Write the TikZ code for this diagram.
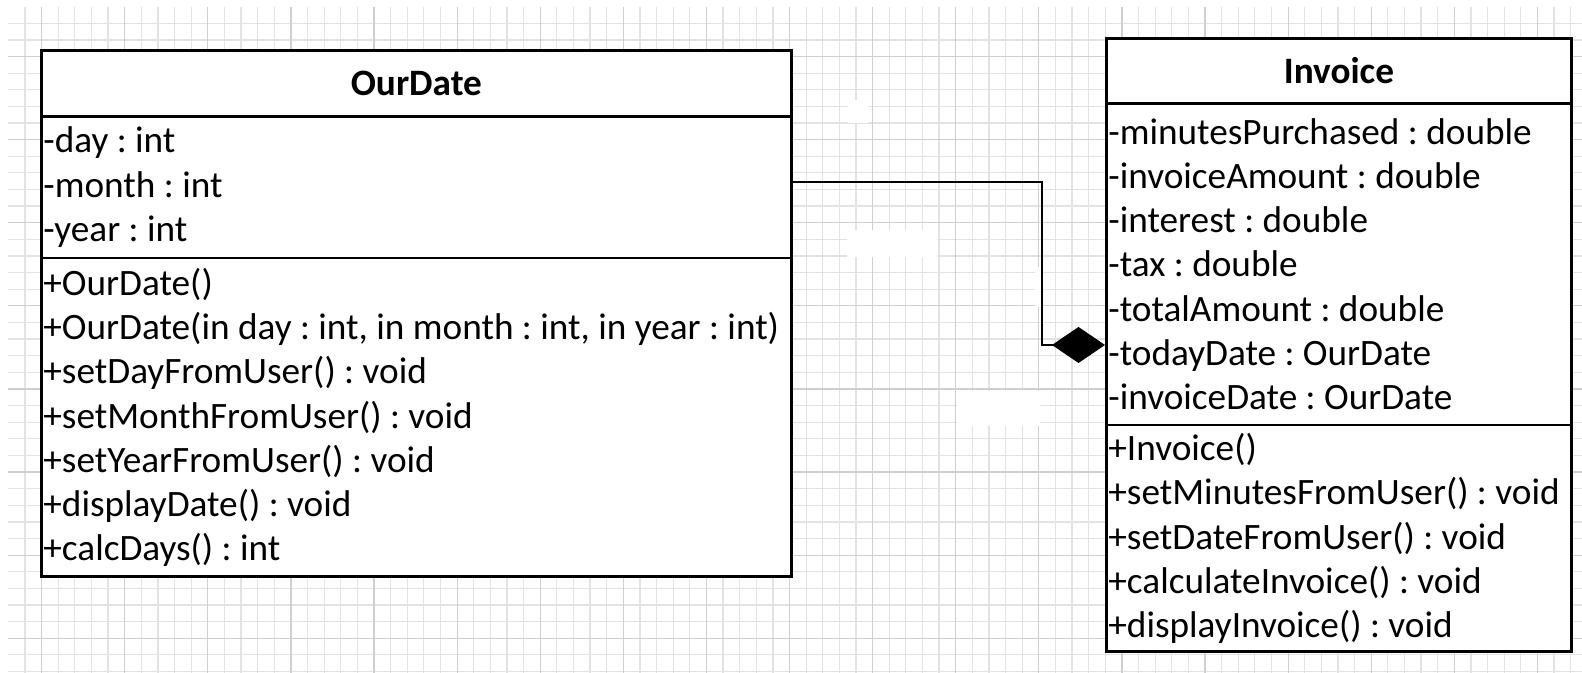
\documentclass[tikz,border=0pt]{standalone}
\usepackage{fontspec}
\setmainfont{Carlito}
\frenchspacing
\usepackage{tikz}
\usetikzlibrary{positioning, shapes.multipart, arrows.meta}
\tikzset{
  umlclass/.style={rectangle split, rectangle split parts=3, draw, line width=0.8pt,
                   fill=white, inner xsep=0.2mm, inner ysep=0pt, anchor=north west,
                   font=\fontsize{10.6}{12.6}\selectfont},
  comp/.style={-{Diamond[length=5.3mm, width=3.6mm]}, line width=0.45pt},
  gridminor/.style={black!11, line width=0.35pt},
  gridmajor/.style={black!19, line width=0.35pt},
  erase/.style={fill=white, draw=none}
}
% one compartment of a class box: height, width, lines
\newcommand{\umlpart}[3]{\parbox[c][#1][c]{#2}{\raggedright #3}}
\newcommand{\umltitle}[3]{\parbox[c][#1][c]{#2}{\centering\textbf{#3}}}

\begin{document}
\begin{tikzpicture}[x=0.1mm, y=-0.1mm]
  \useasboundingbox[fill=white] (0,0) rectangle (1582,673);
  % squared paper
  \foreach \k in {0,...,94}
    \draw[gridminor] ({25+16.62*\k},6.7) -- ++(0,667);
  \foreach \k in {0,...,39}
    \draw[gridminor] (8.4,{23.3+16.62*\k}) -- ++(1574,0);
  \foreach \k in {1,6,...,91}
    \draw[gridmajor] ({25+16.62*\k},6.7) -- ++(0,667);
  \foreach \k in {2,7,...,37}
    \draw[gridmajor] (8.4,{23.3+16.62*\k}) -- ++(1574,0);
  % blanked spots
  \fill[erase] (848,100) rectangle (868,123);
  \fill[erase] (847,230) rectangle (937,257);
  \fill[erase] (1035,267) rectangle (1041,307);
  \fill[erase] (957,391) rectangle (1040,426);

  % classes
  \node[umlclass] (ourdate) at (40,49) {\umltitle{6.3mm}{74.6mm}{OurDate}
    \nodepart{two}\umlpart{13.9mm}{74.6mm}{-day : int\\-month : int\\-year : int}
    \nodepart{three}\umlpart{31.6mm}{74.6mm}{+OurDate()\\+OurDate(in day : int, in month : int, in year : int)\\+setDayFromUser() : void\\+setMonthFromUser() : void\\+setYearFromUser() : void\\+displayDate() : void\\+calcDays() : int}};
  \node[umlclass] (invoice) at (1105,37) {\umltitle{6.2mm}{46.1mm}{Invoice}
    \nodepart{two}\umlpart{31.9mm}{46.1mm}{-minutesPurchased : double\\-invoiceAmount : double\\-interest : double\\-tax : double\\-totalAmount : double\\-todayDate : OurDate\\-invoiceDate : OurDate}
    \nodepart{three}\umlpart{22.4mm}{46.1mm}{+Invoice()\\+setMinutesFromUser() : void\\+setDateFromUser() : void\\+calculateInvoice() : void\\+displayInvoice() : void}};

  % composition
  \draw[comp] (ourdate.east |- 0,182) -| (1042,345) -- (invoice.west |- 0,345);
\end{tikzpicture}
\end{document}
